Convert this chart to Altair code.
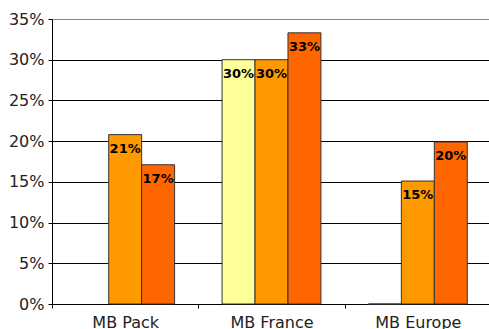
import altair as alt
import pandas as pd

categories = ["MB Pack", "MB France", "MB Europe"]
series = ["Série 1", "Série 2", "Série 3"]
values_s1 = [None, 0.30, 0.0]
values_s2 = [0.208, 0.30, 0.151]
values_s3 = [0.171, 0.333, 0.199]
colors = ["#FFFF99", "#FF9900", "#FF6600"]

rows = []
for s, vals in zip(series, [values_s1, values_s2, values_s3]):
    for c, v in zip(categories, vals):
        if v is not None:
            rows.append({"cat": c, "series": s, "value": v,
                         "label": f"{round(v * 100):d}%" if v > 0 else ""})
df = pd.DataFrame(rows)

x = alt.X("cat:N", sort=categories, title=None,
          scale=alt.Scale(paddingInner=0, paddingOuter=0, range=[0, 439]),
          axis=alt.Axis(labelAngle=0, tickBand="extent", tickSize=4, labelPadding=6,
                        labelFont="DejaVu Sans", labelFontSize=16, labelColor="#222",
                        domainColor="#000", tickColor="#000", grid=False))
xo = alt.XOffset("series:N", sort=series,
                 scale=alt.Scale(paddingInner=0, paddingOuter=0.72))
y = alt.Y("value:Q", title=None,
          scale=alt.Scale(domain=[0, 0.35], nice=False),
          axis=alt.Axis(format=".0%", values=[0, 0.05, 0.1, 0.15, 0.2, 0.25, 0.3, 0.35],
                        tickSize=4, labelPadding=4, labelFont="DejaVu Sans",
                        labelFontSize=16, labelColor="#222", domainColor="#000",
                        tickColor="#000", grid=True,
                        gridColor={"condition": {"test": "datum.value > 0.34", "value": "#888"},
                                   "value": "#000"},
                        gridWidth=1))

bars = alt.Chart(df).mark_bar(stroke="#333", strokeWidth=1).encode(
    x=x, xOffset=xo, y=y,
    color=alt.Color("series:N", sort=series,
                    scale=alt.Scale(domain=series, range=colors), legend=None),
)

labels = alt.Chart(df).mark_text(baseline="middle", dy=14, font="DejaVu Sans",
                                 fontWeight="bold", fontSize=13, color="#000").encode(
    x=x, xOffset=xo, y=y, text="label:N"
)

chart = alt.layer(bars, labels).properties(
    width=437, height=285,
    autosize=alt.AutoSizeParams(type="none"),
    padding={"left": 52, "top": 19, "right": 0, "bottom": 25},
).configure_view(stroke=None).configure(background="white")

chart.save("out.html", embed_options={"renderer": "svg", "actions": False})
